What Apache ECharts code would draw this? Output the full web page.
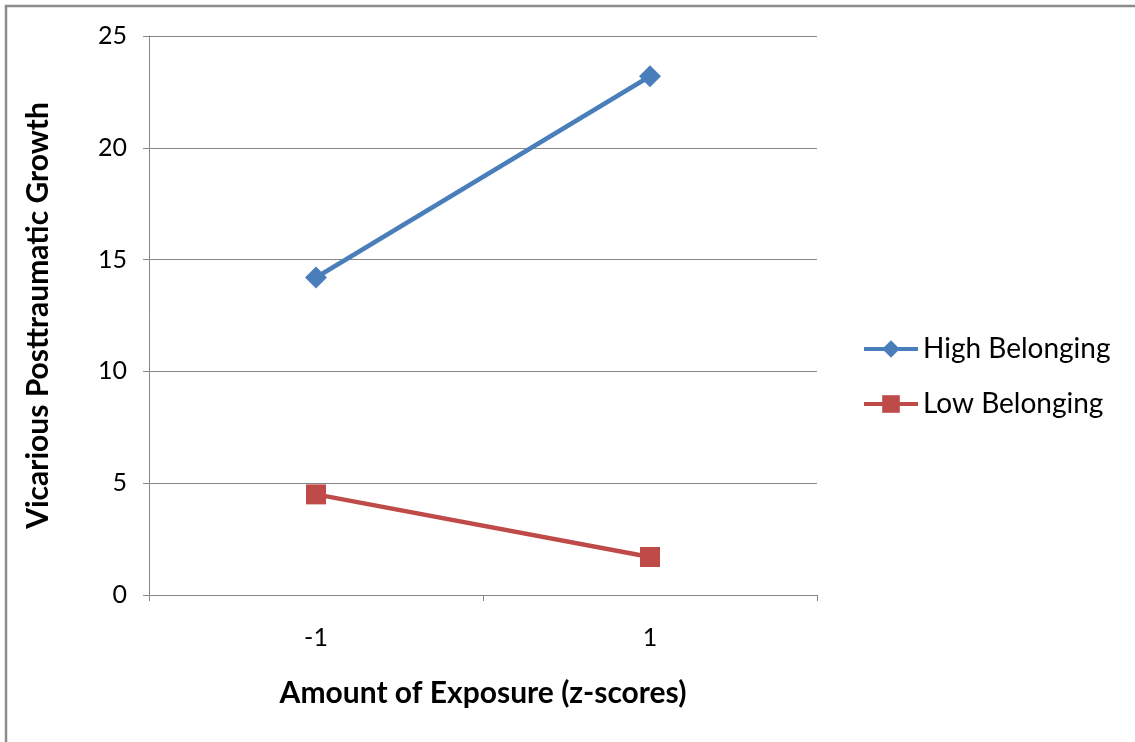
<!DOCTYPE html>
<html>
<head>
<meta charset="utf-8">
<script src="https://cdn.jsdelivr.net/npm/echarts@6/dist/echarts.min.js"></script>
<style>
html,body{margin:0;padding:0;background:#fff;}
#c{width:1135px;height:742px;}
</style>
</head>
<body>
<div id="c"></div>
<script>
var categories = ['-1', '1'];
var highBelonging = [14.2, 23.2];
var lowBelonging = [4.5, 1.7];
var yTicks = { min: 0, max: 25, interval: 5 };

var FONT = 'Lato';
var chart = echarts.init(document.getElementById('c'), null, { renderer: 'canvas' });
chart.setOption({
  backgroundColor: '#ffffff',
  animation: false,
  graphic: [
    { type: 'line', shape: { x1: 5, y1: 6, x2: 1135, y2: 6 }, style: { stroke: '#8c8c8c', lineWidth: 2.5 } },
    { type: 'line', shape: { x1: 6, y1: 5, x2: 6, y2: 742 }, style: { stroke: '#8c8c8c', lineWidth: 2.5 } }
  ],
  grid: { left: 149, right: 318, top: 36, bottom: 147, containLabel: false },
  legend: {
    orient: 'vertical',
    left: 857,
    top: 330,
    itemWidth: 54,
    itemHeight: 22,
    itemGap: 27,
    lineStyle: { width: 4 },
    textStyle: { fontFamily: FONT, fontSize: 28, color: '#000' },
    data: ['High Belonging', 'Low Belonging']
  },
  xAxis: {
    type: 'category',
    data: categories,
    boundaryGap: true,
    name: 'Amount of Exposure (z-scores)',
    nameLocation: 'middle',
    nameGap: 83,
    nameTextStyle: { fontFamily: FONT, fontSize: 30, fontWeight: 'bold', color: '#000' },
    axisLine: { show: true, lineStyle: { color: '#878787', width: 1 } },
    axisTick: { show: true, length: 6, lineStyle: { color: '#878787' } },
    axisLabel: { margin: 30, fontFamily: FONT, fontSize: 25, color: '#000' },
    splitLine: { show: false }
  },
  yAxis: {
    type: 'value',
    min: yTicks.min,
    max: yTicks.max,
    interval: yTicks.interval,
    name: 'Vicarious Posttraumatic Growth',
    nameLocation: 'middle',
    nameGap: 96,
    nameTextStyle: { fontFamily: FONT, fontSize: 30, fontWeight: 'bold', color: '#000' },
    axisLine: { show: true, lineStyle: { color: '#878787', width: 1 } },
    axisTick: { show: true, length: 6, lineStyle: { color: '#878787' } },
    axisLabel: { margin: 22, fontFamily: FONT, fontSize: 25, color: '#000' },
    splitLine: { show: true, lineStyle: { color: '#878787', width: 1 } }
  },
  series: [
    {
      name: 'High Belonging',
      type: 'line',
      data: highBelonging,
      symbol: 'diamond',
      symbolSize: 22,
      lineStyle: { color: '#4a7ebb', width: 4.5 },
      itemStyle: { color: '#4a7ebb' }
    },
    {
      name: 'Low Belonging',
      type: 'line',
      data: lowBelonging,
      symbol: 'rect',
      symbolSize: 20,
      lineStyle: { color: '#be4b48', width: 4.5 },
      itemStyle: { color: '#be4b48' }
    }
  ]
});
</script>
</body>
</html>
